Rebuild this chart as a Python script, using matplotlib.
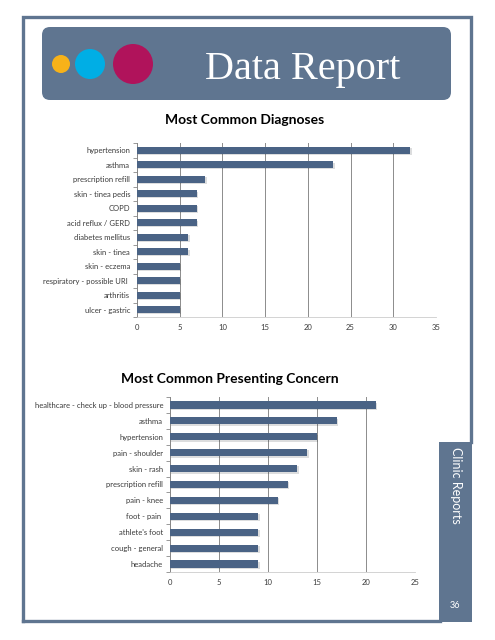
import matplotlib
matplotlib.use("Agg")
import matplotlib.pyplot as plt
import matplotlib.patheffects as pe
from matplotlib.patches import FancyBboxPatch, Circle, Rectangle

# data
diag_labels = ["hypertension", "asthma", "prescription refill", "skin - tinea pedis",
               "COPD", "acid reflux / GERD", "diabetes mellitus", "skin - tinea",
               "skin - eczema", "respiratory - possible URI ", "arthritis", "ulcer - gastric"]
diag_counts = [32, 23, 8, 7, 7, 7, 6, 6, 5, 5, 5, 5]
diag_ticks = [0, 5, 10, 15, 20, 25, 30, 35]

concern_labels = ["healthcare - check up - blood pressure", "asthma", "hypertension",
                  "pain - shoulder", "skin - rash", "prescription refill", "pain - knee",
                  "foot - pain ", "athlete's foot", "cough - general", "headache"]
concern_counts = [21, 17, 15, 14, 13, 12, 11, 9, 9, 9, 9]
concern_ticks = [0, 5, 10, 15, 20, 25]

frame_col = "#5f7590"
bar_col = "#4a6385"
W, H = 495, 640

plt.rcParams["font.family"] = ["Lato", "DejaVu Sans"]

fig = plt.figure(figsize=(W / 100, H / 100), dpi=100)

# page decoration in pixel coordinates
bg = fig.add_axes([0, 0, 1, 1])
bg.set_xlim(0, W)
bg.set_ylim(H, 0)
bg.axis("off")

bg.plot([23, 23, 471, 471], [621, 17, 17, 442], color=frame_col, lw=2.4, solid_joinstyle="miter")
bg.plot([23, 440], [621, 621], color=frame_col, lw=2.4)
bg.add_patch(Rectangle((439, 442), 33, 180, color=frame_col, lw=0))
bg.add_patch(FancyBboxPatch((42, 27), 409, 73, boxstyle="round,pad=0,rounding_size=8",
                            color=frame_col, lw=0))
bg.add_patch(Circle((61, 64), 9, color="#f7b219", lw=0))
bg.add_patch(Circle((90, 64), 15, color="#00aee5", lw=0))
bg.add_patch(Circle((133, 64), 20, color="#b0135b", lw=0))
bg.text(303, 70, "Data Report", color="white", fontsize=29, family="Liberation Serif",
        ha="center", va="center")
bg.text(456, 485, "Clinic Reports", color="white", fontsize=9, rotation=-90,
        ha="center", va="center")
bg.text(455, 605, "36", color="white", fontsize=6.5, ha="center", va="center")


def bar_chart(rect, labels, counts, ticks, title, title_xy):
    ax = fig.add_axes(rect)
    y = list(range(len(labels)))
    bars = ax.barh(y, counts, height=0.45, color=bar_col, zorder=3)
    for b in bars:
        b.set_path_effects([pe.SimplePatchShadow(offset=(1, -1), alpha=0.15), pe.Normal()])
    ax.set_ylim(len(labels) - 0.5, -0.5)
    ax.set_xlim(ticks[0], ticks[-1])
    ax.set_xticks(ticks)
    ax.set_yticks(y)
    ax.set_yticklabels(labels, fontsize=5.5, color="#3a3a3a")
    ax.set_yticks([i - 0.5 for i in range(len(labels) + 1)], minor=True)
    ax.tick_params(axis="y", which="major", length=0, pad=5)
    ax.tick_params(axis="y", which="minor", length=3, color="#888888", width=0.6)
    ax.tick_params(axis="x", length=0, labelsize=5.5, labelcolor="#3a3a3a", pad=5)
    ax.grid(axis="x", color="#8c8c8c", lw=0.7, zorder=0)
    for s in ["top", "right"]:
        ax.spines[s].set_visible(False)
    ax.spines["left"].set_color("#888888")
    ax.spines["left"].set_linewidth(0.7)
    ax.spines["bottom"].set_color("#cccccc")
    ax.spines["bottom"].set_linewidth(0.6)
    bg.text(title_xy[0], title_xy[1], title, fontsize=10, weight="bold",
            ha="center", va="center", color="black")
    return ax


bar_chart([137 / W, 1 - 317 / H, 299 / W, 174 / H], diag_labels, diag_counts, diag_ticks,
          "Most Common Diagnoses", (245, 120))
bar_chart([170 / W, 1 - 572 / H, 245 / W, 175 / H], concern_labels, concern_counts,
          concern_ticks, "Most Common Presenting Concern", (230, 379))

fig.savefig("out.png", dpi=100)
